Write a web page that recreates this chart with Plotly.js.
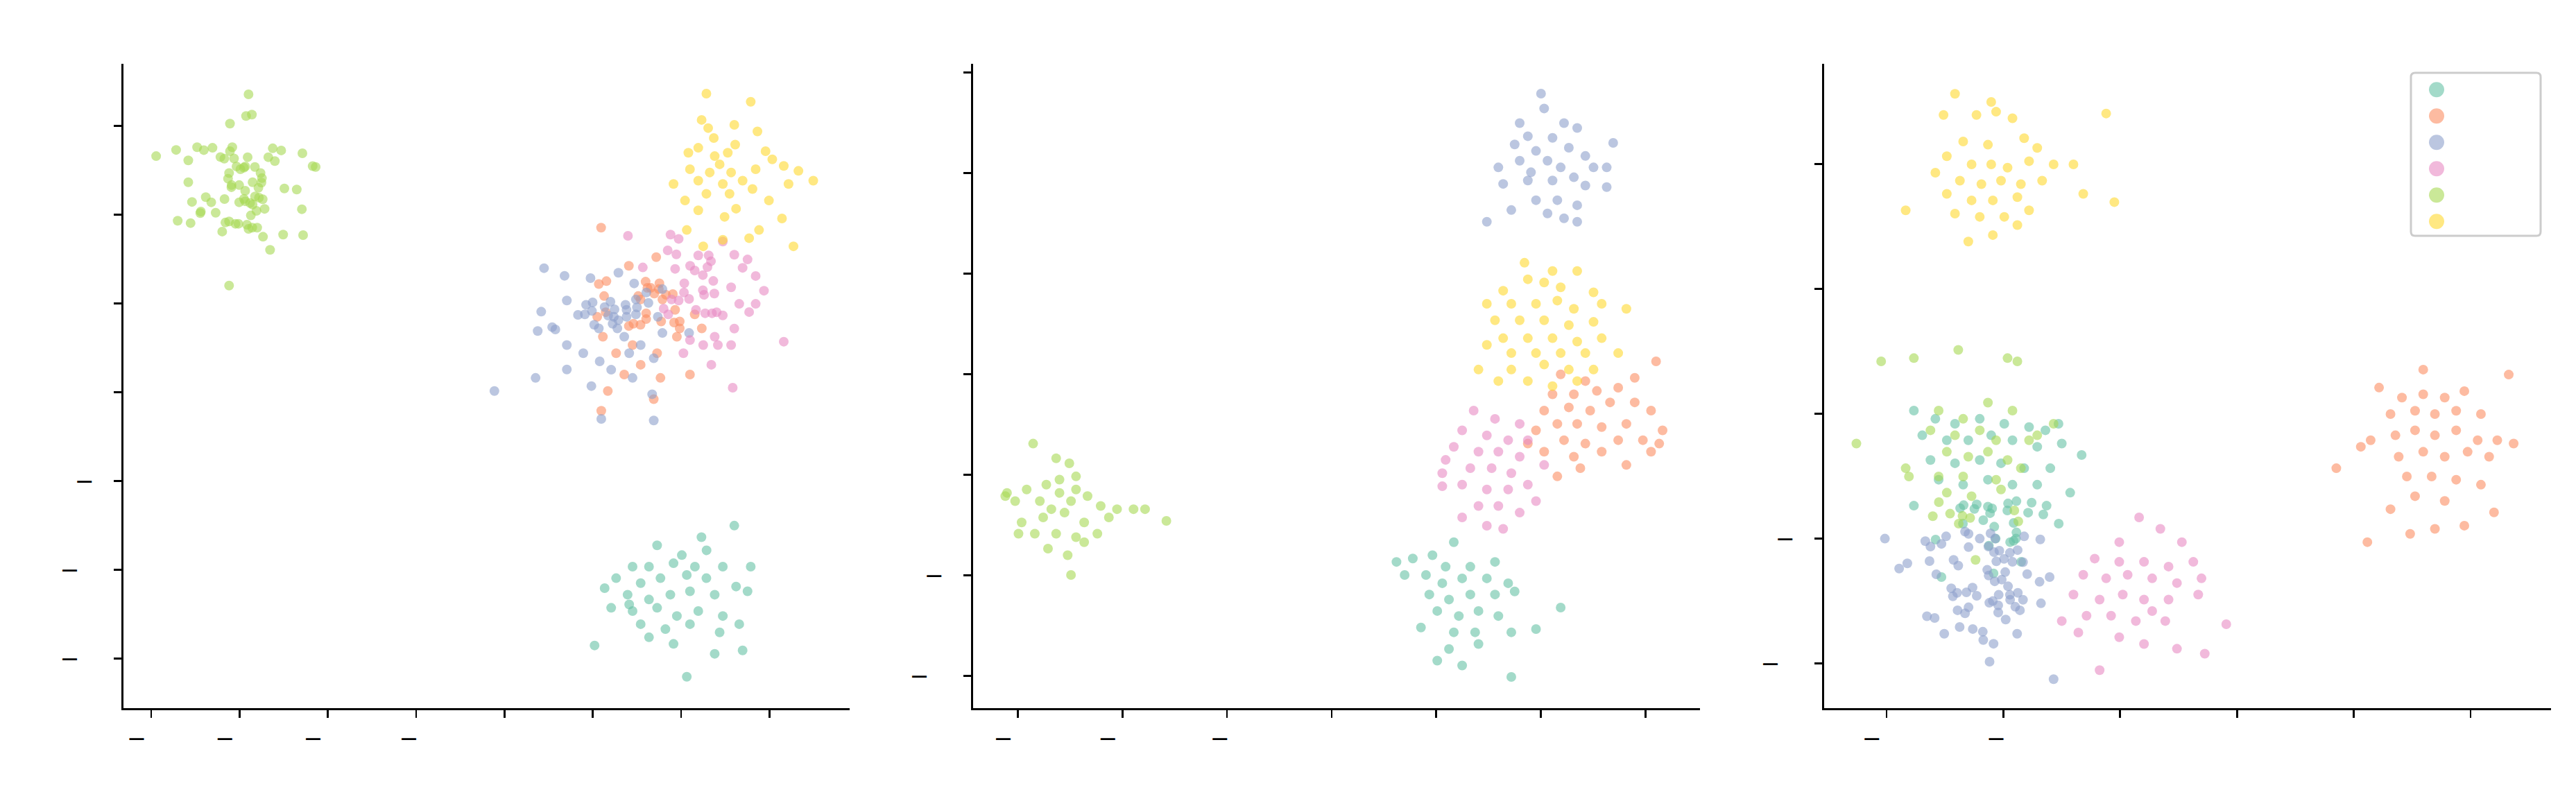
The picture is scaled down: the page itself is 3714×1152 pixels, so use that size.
<!DOCTYPE html>
<html><head><meta charset="utf-8">
<script src="https://cdn.plot.ly/plotly-3.0.1.min.js"></script>
<style>html,body{margin:0;padding:0;background:#fff}#chart{width:3714px;height:1152px}</style>
</head><body><div id="chart"></div>
<script>
// ---------- categories / palette ----------
const clusterNames = ['0','1','2','3','4','5'];
const clusterColors = ['#66c2a5','#fc8d62','#8da0cb','#e78ac3','#a6d854','#ffd92f'];

// ---------- tick values ----------
const leftXTicks = [-20,-15,-10,-5,0,5,10,15];
const leftYTicks = [-15,-10,-5,0,5,10,15];
const midXTicks = [-15,-10,-5,0,5,10,15];
const midYTicks = [-10,-5,0,5,10,15,20];
const rightXTicks = [-10,-5,0,5,10,15];
const rightYTicks = [-10,-5,0,5,10];

// ---------- LEFT panel data ----------
const leftTealX = [11.15,8.64,10.04,11.44,7.25,8.18,9.57,10.78,12.36,13.94,6.32,7.71,8.83,10.32,11.43,13.11,5.67,6.97,8.18,9.39,10.50,11.90,13.76,6.04,7.25,8.64,9.76,10.97,12.36,7.71,9.11,10.50,12.18,13.29,5.10,8.18,9.57,11.90,13.48,10.32,13.01,7.06];
const leftTealY = [-8.17,-8.63,-9.18,-8.91,-9.83,-9.83,-9.64,-9.83,-9.83,-9.83,-10.48,-10.76,-10.48,-10.30,-10.48,-10.95,-11.04,-11.41,-11.68,-11.41,-11.22,-11.41,-11.22,-12.15,-12.33,-12.15,-12.61,-12.33,-12.61,-13.07,-13.35,-13.07,-13.53,-13.07,-14.27,-13.81,-14.18,-14.74,-14.55,-16.03,-7.52,-11.96];

const leftOrangeX = [5.47,8.59,7.04,5.34,5.77,5.64,7.99,8.28,8.77,7.57,7.70,9.14,9.53,8.94,5.25,5.73,8.02,8.02,7.70,7.30,7.04,8.87,9.66,9.60,9.92,9.92,10.77,11.17,8.74,8.48,8.09,5.57,6.32,7.25,8.64,7.71,8.83,5.85,6.78,9.76,10.50,5.48,8.45];
const leftOrangeY = [9.26,7.60,7.11,6.09,6.25,5.41,6.22,5.87,6.13,5.41,5.22,5.48,5.52,5.22,4.24,4.50,4.44,4.11,3.79,3.85,3.72,3.98,4.63,3.92,3.98,3.59,4.38,3.59,5.80,5.55,5.87,3.12,2.19,2.65,2.19,1.54,0.80,0.06,0.99,3.12,0.99,-1.05,-0.40];

const leftBlueX = [2.24,3.40,4.87,6.45,7.34,3.53,2.08,4.62,4.99,4.95,4.16,4.55,5.67,6.00,6.23,5.87,6.19,6.85,6.91,7.44,7.50,8.03,8.15,8.94,7.44,6.91,5.08,5.34,6.12,6.45,6.39,2.70,2.88,1.88,8.68,8.94,10.45,3.53,4.46,5.39,6.78,7.71,8.45,6.04,7.25,8.36,4.92,3.53,1.76,-0.57,8.45,5.48,7.06];
const leftBlueY = [6.98,6.55,6.42,6.72,6.12,5.16,4.53,4.92,5.05,4.57,4.35,4.38,4.79,5.09,4.66,4.31,4.24,4.92,4.63,5.22,4.77,5.61,5.02,5.80,4.38,4.24,3.79,3.59,3.85,4.05,3.59,3.66,3.53,3.44,4.24,3.33,3.33,2.65,2.19,1.73,3.12,2.65,1.91,1.26,0.80,-0.12,0.34,1.27,0.80,0.06,-1.60,-1.51,2.19];

const leftPinkX = [6.99,7.83,9.40,9.86,9.24,9.73,9.66,10.18,10.16,10.45,9.86,9.46,9.01,9.27,10.84,10.51,10.77,10.97,11.56,11.69,11.23,11.49,11.82,11.23,11.30,11.88,11.36,11.75,12.01,12.36,13.01,13.76,13.48,14.22,12.83,13.29,14.22,12.36,13.01,11.90,10.50,11.25,12.08,12.83,13.85,15.81,14.69,11.71,12.92,10.13];
const leftPinkY = [8.80,7.02,8.87,8.63,7.98,7.76,6.94,6.13,5.61,5.25,5.16,5.22,4.70,4.38,4.63,7.11,6.85,7.70,7.70,7.37,6.59,7.04,6.26,5.74,5.48,5.55,4.44,4.44,4.50,8.48,7.74,7.47,7.00,6.54,5.90,4.97,4.97,4.32,3.58,3.12,2.93,2.65,2.65,2.65,4.51,2.84,5.71,1.54,0.25,2.19];

const leftGreenX = [-14.49,-14.63,-14.30,-15.54,-19.72,-18.59,-17.40,-17.02,-16.53,-17.90,-15.41,-15.54,-16.08,-15.86,-15.31,-14.54,-13.12,-12.64,-13.37,-13.00,-11.44,-10.86,-10.69,-15.17,-14.95,-14.75,-14.68,-14.13,-15.59,-15.65,-13.81,-13.73,-13.76,-17.90,-15.45,-15.46,-15.02,-14.26,-13.93,-12.46,-11.76,-14.68,-14.12,-13.90,-13.69,-16.91,-17.69,-16.60,-15.85,-14.75,-14.68,-15.02,-14.40,-14.26,-13.58,-14.04,-14.36,-11.47,-17.19,-17.22,-16.35,-18.50,-17.77,-15.80,-15.59,-15.23,-15.06,-14.58,-14.49,-14.28,-14.00,-15.98,-13.67,-12.53,-11.40,-13.27,-15.59];
const leftGreenY = [16.77,15.55,15.63,15.12,13.29,13.64,13.79,13.63,13.76,13.05,13.79,13.57,13.24,13.15,13.16,13.23,13.73,13.61,13.23,13.01,13.45,12.73,12.68,12.71,12.55,12.64,12.71,12.68,12.34,12.02,12.34,12.05,11.80,11.82,11.66,11.54,11.66,11.82,11.51,11.47,11.41,11.34,11.02,10.95,10.86,10.98,10.71,10.69,10.87,10.88,10.75,10.69,10.65,10.56,10.32,10.21,9.95,10.30,10.17,10.08,10.10,9.65,9.52,9.55,9.61,9.48,9.48,9.43,9.19,9.26,9.26,9.04,8.75,8.87,8.84,8.01,6.00];

const leftYellowX = [11.43,13.94,11.16,11.53,13.01,14.32,11.85,13.06,10.97,10.41,12.64,14.78,15.16,15.81,16.64,17.48,16.08,12.18,12.83,13.48,11.62,10.97,12.36,14.04,14.97,11.43,10.22,10.97,12.46,13.11,14.41,15.71,16.36,13.85,10.32,9.57,10.50,11.90,12.74,14.22,11.25,12.36];
const leftYellowY = [16.81,16.35,15.33,14.87,15.05,14.68,14.31,13.94,13.76,13.48,13.48,13.57,13.11,12.74,12.46,11.91,11.72,12.83,12.37,11.91,12.37,11.91,11.72,11.44,10.79,11.17,10.79,10.24,9.87,10.33,9.13,9.78,8.21,8.67,9.13,11.72,12.55,13.29,11.17,12.55,8.21,8.58];

// ---------- MIDDLE panel data ----------
const midTealX = [3.88,4.82,5.84,5.45,6.63,7.81,3.49,4.51,5.29,6.24,7.42,8.44,4.67,5.61,6.63,7.81,8.75,5.05,6.08,7.02,7.97,5.84,6.86,8.59,9.77,5.05,6.24,8.59,5.61,10.95,4.27,7.02,3.10];
const midTealY = [-4.17,-4.01,-3.36,-4.58,-4.58,-4.34,-4.99,-4.99,-5.40,-5.16,-5.16,-5.40,-5.96,-6.21,-5.96,-5.96,-5.81,-6.78,-7.03,-6.78,-7.03,-7.84,-7.84,-7.84,-7.68,-9.25,-9.49,-10.06,-8.67,-6.61,-7.60,-8.42,-4.34];

const midOrangeX = [15.51,10.95,12.13,10.56,11.58,12.68,13.70,14.49,10.16,11.34,12.36,13.31,14.49,15.27,10.79,11.74,12.91,14.09,9.77,11.11,12.13,13.70,14.88,15.82,15.66,10.16,11.58,12.91,14.09,11.89,10.79,15.27,9.38];
const midOrangeY = [5.63,4.98,4.65,3.99,3.99,4.16,4.32,4.81,3.18,3.34,3.18,3.59,3.59,3.18,2.52,2.52,2.36,2.52,2.20,1.71,1.54,1.71,1.71,2.20,1.54,1.14,0.89,1.14,0.48,0.32,-0.09,1.14,1.54];

const midBlueX = [10.01,10.16,8.99,11.11,11.74,9.38,10.56,8.75,9.77,11.34,12.13,13.46,13.15,12.52,7.97,8.99,10.32,10.95,11.58,10.56,9.38,8.20,12.13,13.15,9.77,10.79,11.74,10.32,11.11,7.42,8.59,11.74,9.53];
const midBlueY = [18.94,18.20,17.47,17.47,17.23,16.82,16.74,16.41,16.09,16.25,15.84,16.49,15.27,15.27,15.27,15.60,15.60,15.27,14.78,14.62,14.62,14.45,14.37,14.29,13.64,13.64,13.39,12.98,12.74,12.57,13.15,12.57,15.03];

const midPinkX = [6.79,7.81,8.99,6.24,7.42,8.44,9.38,5.84,7.02,7.97,8.99,10.16,6.63,7.65,8.59,5.29,6.24,7.42,8.44,9.38,7.02,7.97,8.99,6.24,8.20,7.42,9.77,5.29,5.45];
const midPinkY = [3.18,2.77,2.52,2.20,1.95,1.71,1.71,1.38,1.14,1.14,0.89,0.48,0.32,0.32,0.07,0.07,-0.50,-0.74,-0.74,-0.50,-1.56,-1.56,-1.89,-2.13,-2.70,-2.54,-1.32,-0.58,0.73];

const midGreenX = [-14.27,-13.17,-12.54,-15.52,-15.13,-14.58,-13.64,-13.01,-12.22,-13.95,-13.01,-12.46,-11.67,-11.04,-10.26,-9.47,-8.92,-7.90,-14.82,-13.79,-12.77,-11.83,-10.65,-14.97,-14.19,-13.17,-12.22,-11.20,-13.56,-12.62,-11.83,-12.46,-15.60,-13.40,-12.22];
const midGreenY = [1.54,0.81,0.56,-0.91,-1.32,-0.74,-0.50,-0.25,-0.09,-1.32,-0.91,-1.32,-1.07,-1.56,-1.72,-1.72,-1.72,-2.30,-2.38,-2.13,-1.89,-2.38,-2.13,-2.94,-2.94,-2.94,-3.11,-2.94,-3.68,-4.01,-3.36,-4.99,-1.07,-1.72,-0.74];

const midYellowX = [9.22,10.56,11.74,8.20,9.38,10.16,10.95,12.52,7.42,8.59,9.77,10.79,11.58,12.91,14.09,7.81,8.99,10.16,11.34,12.52,8.20,9.38,10.56,11.74,12.91,7.42,8.59,9.77,10.95,12.13,13.70,8.59,10.16,11.34,7.02,7.97,9.38,11.74,10.56,12.52];
const midYellowY = [10.53,10.12,10.12,9.14,9.71,9.55,9.31,9.06,8.49,8.49,8.49,8.65,8.24,8.49,8.24,7.67,7.67,7.67,7.43,7.59,6.78,6.78,6.78,6.61,6.78,6.45,6.04,6.04,6.04,6.04,6.04,5.22,5.47,5.22,5.22,4.65,4.65,4.65,4.40,5.22];

// ---------- RIGHT panel data ----------
const rightTealX = [-2.64,-8.83,-7.91,-7.07,-6.01,-4.96,-3.90,-3.20,-8.47,-7.42,-6.50,-5.52,-4.61,-3.55,-2.50,-1.65,-8.12,-7.07,-6.01,-5.10,-4.11,-2.99,-7.77,-6.72,-5.66,-4.61,-3.55,-2.14,-8.83,-7.90,-7.65,-6.85,-6.70,-6.14,-6.24,-6.73,-5.86,-5.66,-5.48,-5.57,-5.39,-5.33,-5.62,-5.42,-4.80,-4.83,-4.44,-3.79,-3.94,-3.29,-3.15,-2.63,-4.56,-4.44,-4.71,-4.56,-4.46,-4.24];
const rightTealY = [-0.40,0.13,-0.20,-0.40,-0.20,-0.40,-0.53,-0.66,-0.86,-1.06,-1.06,-0.86,-1.06,-1.32,-1.19,-1.65,-1.85,-1.98,-1.85,-1.98,-2.18,-2.18,-2.64,-2.84,-2.64,-2.84,-2.84,-3.16,-3.68,-5.04,-6.54,-3.78,-3.66,-3.63,-3.81,-4.40,-4.26,-3.72,-3.79,-3.98,-4.52,-5.00,-5.28,-6.39,-3.59,-3.87,-3.50,-3.56,-3.96,-4.03,-3.68,-4.40,-4.37,-4.75,-5.14,-5.09,-5.00,-5.93];

const rightOrangeX = [12.97,16.63,11.08,12.06,12.97,13.89,14.73,11.57,12.62,13.47,14.38,15.44,10.72,11.78,12.62,13.47,14.38,15.30,16.14,16.84,10.30,11.92,12.97,13.89,14.87,15.79,9.25,12.27,13.33,14.38,15.44,16.00,12.62,13.89,11.57,12.41,13.47,10.58,14.73];
const rightOrangeY = [1.77,1.57,1.05,0.65,0.78,0.65,0.91,-0.01,0.12,-0.01,0.12,-0.01,-1.06,-0.86,-0.66,-0.86,-0.66,-1.06,-1.06,-1.19,-1.32,-1.72,-1.52,-1.72,-1.52,-1.72,-2.18,-2.51,-2.51,-2.64,-2.84,-3.95,-3.30,-3.49,-3.82,-4.81,-4.61,-5.14,-4.48];

const rightBlueX = [-10.07,-9.46,-9.11,-8.34,-8.12,-7.65,-7.45,-8.16,-7.87,-7.13,-6.93,-6.49,-6.64,-6.49,-6.01,-5.64,-5.55,-5.35,-5.17,-5.40,-5.30,-4.97,-4.72,-4.61,-4.39,-4.11,-4.16,-5.69,-5.63,-5.37,-5.07,-4.92,-4.80,-3.98,-3.45,-3.02,-7.23,-6.98,-7.16,-6.58,-6.32,-6.14,-5.60,-5.45,-5.20,-5.22,-4.72,-4.71,-4.38,-4.16,-4.49,-4.29,-3.39,-8.27,-7.94,-6.96,-6.64,-6.49,-5.22,-4.90,-7.53,-6.87,-6.31,-5.88,-5.86,-5.42,-4.41,-5.59,-2.85,-3.42];
const rightBlueY = [-5.00,-6.20,-5.99,-5.10,-5.32,-5.21,-4.91,-5.90,-6.43,-5.85,-6.08,-5.34,-4.72,-4.81,-5.00,-5.32,-4.79,-5.00,-5.48,-5.54,-5.91,-5.81,-5.57,-5.93,-5.46,-4.91,-5.94,-6.25,-6.48,-6.71,-6.64,-6.34,-6.91,-6.42,-6.73,-6.54,-6.99,-7.17,-7.31,-7.15,-6.96,-7.29,-7.57,-7.50,-7.25,-7.67,-7.25,-7.45,-7.17,-7.45,-7.73,-7.87,-7.59,-8.11,-8.18,-7.87,-7.99,-7.75,-7.96,-8.24,-8.81,-8.54,-8.62,-8.73,-9.06,-9.21,-8.81,-9.93,-10.63,-5.03];

const rightPinkX = [0.81,1.72,2.64,-0.04,-1.09,-0.04,1.02,2.07,3.13,-1.58,-0.60,0.32,1.37,2.43,3.48,-2.00,-0.88,0.11,1.02,2.07,3.34,-1.44,-0.39,0.67,1.93,4.54,-1.79,-0.04,1.02,2.43,3.62,-0.88,-2.50,1.37];
const rightPinkY = [-4.15,-4.61,-5.14,-5.14,-5.80,-5.93,-5.93,-6.12,-5.93,-6.45,-6.59,-6.45,-6.59,-6.78,-6.59,-7.24,-7.44,-7.24,-7.44,-7.44,-7.24,-8.09,-8.09,-8.30,-8.30,-8.43,-8.76,-8.95,-9.22,-9.41,-9.61,-10.27,-8.30,-7.90];

const rightGreenX = [-10.23,-8.83,-6.93,-4.82,-4.40,-11.29,-9.18,-9.04,-7.77,-6.72,-5.66,-4.61,-8.12,-7.07,-6.01,-5.31,-3.90,-7.42,-6.50,-5.66,-4.82,-7.77,-6.72,-5.31,-4.25,-7.42,-6.36,-5.10,-7.76,-8.02,-7.28,-6.75,-6.42,-6.91,-6.19,-4.53,-4.36,-3.55,-2.85];
const rightGreenY = [2.10,2.23,2.56,2.23,2.10,-1.19,-2.18,-2.51,0.13,-0.20,0.45,0.13,-0.66,-0.86,-0.66,-1.06,-1.06,-1.52,-1.72,-1.52,-1.85,-2.51,-2.51,-2.64,-2.18,-3.16,-3.30,-3.03,-3.54,-4.10,-4.00,-4.09,-4.17,-4.40,-5.85,-3.87,-4.31,-0.86,-0.40];

const rightYellowX = [-7.07,-5.52,-0.60,-7.56,-6.15,-5.31,-4.61,-6.72,-5.66,-4.11,-3.55,-7.42,-6.36,-5.52,-4.82,-3.90,-2.85,-2.00,-6.86,-5.94,-5.10,-4.25,-3.34,-7.42,-6.36,-5.45,-4.40,-7.07,-6.01,-4.96,-3.90,-9.18,-0.25,-1.58,-6.50,-5.45,-4.40,-7.91];
const rightYellowY = [12.82,12.49,12.03,11.97,11.97,12.10,11.84,10.91,10.78,11.04,10.65,10.32,9.99,9.99,9.86,10.12,9.99,9.99,9.34,9.20,9.34,9.20,9.34,8.81,8.55,8.55,8.68,8.02,7.89,7.89,8.15,8.15,8.48,8.81,6.90,7.16,7.56,9.66];

// ---------- assemble ----------
const panels = [
  {xa:'x',  ya:'y',  data:[[leftTealX,leftTealY],[leftOrangeX,leftOrangeY],[leftBlueX,leftBlueY],[leftPinkX,leftPinkY],[leftGreenX,leftGreenY],[leftYellowX,leftYellowY]]},
  {xa:'x2', ya:'y2', data:[[midTealX,midTealY],[midOrangeX,midOrangeY],[midBlueX,midBlueY],[midPinkX,midPinkY],[midGreenX,midGreenY],[midYellowX,midYellowY]]},
  {xa:'x3', ya:'y3', data:[[rightTealX,rightTealY],[rightOrangeX,rightOrangeY],[rightBlueX,rightBlueY],[rightPinkX,rightPinkY],[rightGreenX,rightGreenY],[rightYellowX,rightYellowY]]}
];

const traces = [];
panels.forEach(p => {
  p.data.forEach((d, c) => {
    traces.push({
      type:'scatter', mode:'markers', x:d[0], y:d[1], xaxis:p.xa, yaxis:p.ya,
      name: clusterNames[c], showlegend:false,
      marker:{size:14, color:clusterColors[c], opacity:0.6, line:{width:0}},
      hoverinfo:'skip'
    });
  });
});

// tick labels: digits are present but not drawn (as in the reference); only the minus glyph shows
function tickText(v){
  const hid = s => '<span style="color:rgba(0,0,0,0)">' + s + '</span>';
  return v < 0 ? '\u2212' + hid(Math.abs(v)) : hid(v);
}

const W = 3714, H = 1152;
const base = {
  showline:true, linecolor:'#000', linewidth:3.3, mirror:false,
  ticks:'outside', ticklen:11, tickwidth:2.7, tickcolor:'#000',
  showgrid:false, zeroline:false, tickmode:'array',
  tickfont:{family:'DejaVu Sans', size:33.5, color:'#000'}
};
function ax(domain, range, ticks, anchor){
  return Object.assign({}, base, {domain, range, tickvals:ticks, ticktext:ticks.map(tickText), anchor, autorange:false});
}
const yDom = [(H-1021)/H, (H-92)/H];

// legend (manual, pixel positions)
const px = x => x / W, py = y => 1 - y / H;
const lg = {x0:3476, x1:3663, y0:105, y1:340, r:6};
const boxPath = `M ${px(lg.x0+lg.r)} ${py(lg.y0)} L ${px(lg.x1-lg.r)} ${py(lg.y0)} Q ${px(lg.x1)} ${py(lg.y0)} ${px(lg.x1)} ${py(lg.y0+lg.r)} L ${px(lg.x1)} ${py(lg.y1-lg.r)} Q ${px(lg.x1)} ${py(lg.y1)} ${px(lg.x1-lg.r)} ${py(lg.y1)} L ${px(lg.x0+lg.r)} ${py(lg.y1)} Q ${px(lg.x0)} ${py(lg.y1)} ${px(lg.x0)} ${py(lg.y1-lg.r)} L ${px(lg.x0)} ${py(lg.y0+lg.r)} Q ${px(lg.x0)} ${py(lg.y0)} ${px(lg.x0+lg.r)} ${py(lg.y0)} Z`;
const shapes = [{type:'path', xref:'paper', yref:'paper', path:boxPath, line:{color:'#cccccc', width:3}, fillcolor:'rgba(255,255,255,0.8)'}];
const annotations = [];
clusterNames.forEach((n, i) => {
  const cy = 129.3 + 38 * i;
  shapes.push({type:'circle', xref:'paper', yref:'paper', xsizemode:'pixel', ysizemode:'pixel',
    xanchor:px(3513), yanchor:py(cy), x0:-11, x1:11, y0:-11, y1:11,
    fillcolor:clusterColors[i], opacity:0.6, line:{width:0}});
  annotations.push({xref:'paper', yref:'paper', x:px(3583), y:py(cy), xanchor:'left', yanchor:'middle',
    text:n, showarrow:false, font:{family:'DejaVu Sans', size:33.5, color:'rgba(0,0,0,0)'}});
});

const layout = {
  width:W, height:H, margin:{l:0, r:0, t:0, b:0},
  paper_bgcolor:'#fff', plot_bgcolor:'#fff', showlegend:false,
  xaxis: ax([178/W, 1225/W], [-21.57, 19.54], leftXTicks, 'y'),
  yaxis: ax(yDom, [-17.80, 18.49], leftYTicks, 'x'),
  xaxis2: ax([1403/W, 2451/W], [-17.14, 17.61], midXTicks, 'y2'),
  yaxis2: ax(yDom, [-11.61, 20.42], midYTicks, 'x2'),
  xaxis3: ax([2630/W, 3678/W], [-12.67, 18.44], rightXTicks, 'y3'),
  yaxis3: ax(yDom, [-11.79, 14.02], rightYTicks, 'x3'),
  shapes, annotations
};

Plotly.newPlot('chart', traces, layout, {staticPlot:true, displayModeBar:false});
</script>
</body></html>
